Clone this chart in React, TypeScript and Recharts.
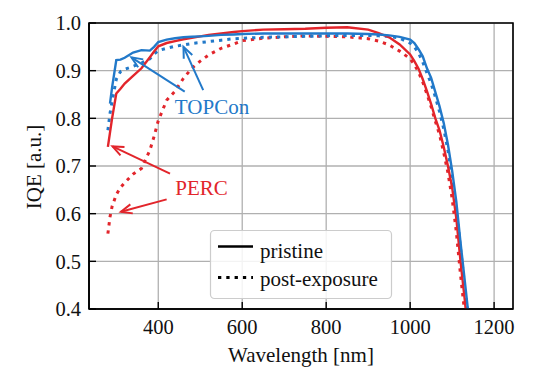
import React from 'react';
import {
  LineChart,
  Line,
  XAxis,
  YAxis,
  CartesianGrid,
  ReferenceLine,
  ReferenceDot,
  ReferenceArea,
} from 'recharts';

const wavelengths = [280, 285, 290, 300, 310, 320, 340, 360, 380, 390, 400, 420, 440, 460, 480, 500, 520, 550, 580, 600, 650, 700, 750, 800, 850, 900, 925, 950, 975, 1000, 1010, 1020, 1030, 1040, 1050, 1060, 1070, 1080, 1090, 1100, 1110, 1120, 1130, 1140, 1150];

const percPristine = [0.74, 0.77, 0.8, 0.852, 0.862, 0.873, 0.889, 0.905, 0.928, 0.94, 0.951, 0.958, 0.962, 0.966, 0.969, 0.972, 0.975, 0.978, 0.981, 0.983, 0.986, 0.987, 0.988, 0.99, 0.991, 0.986, 0.979, 0.97, 0.955, 0.934, 0.92, 0.904, 0.882, 0.857, 0.83, 0.8, 0.775, 0.74, 0.7, 0.655, 0.59, 0.5, 0.42, 0.33, 0.24];

const percPost = [0.558, 0.593, 0.615, 0.64, 0.655, 0.665, 0.683, 0.695, 0.733, 0.762, 0.795, 0.838, 0.857, 0.884, 0.905, 0.92, 0.933, 0.947, 0.956, 0.963, 0.968, 0.971, 0.973, 0.972, 0.971, 0.967, 0.962, 0.954, 0.941, 0.925, 0.913, 0.897, 0.876, 0.851, 0.824, 0.794, 0.766, 0.728, 0.686, 0.632, 0.562, 0.472, 0.392, 0.3, 0.21];

const topconPristine = [null, 0.831, 0.865, 0.922, 0.923, 0.927, 0.938, 0.943, 0.942, 0.95, 0.96, 0.965, 0.968, 0.97, 0.971, 0.972, 0.973, 0.975, 0.976, 0.977, 0.978, 0.978, 0.978, 0.978, 0.978, 0.977, 0.976, 0.974, 0.971, 0.965, 0.958, 0.945, 0.93, 0.905, 0.885, 0.855, 0.825, 0.79, 0.745, 0.69, 0.625, 0.54, 0.46, 0.38, 0.3];

const topconPost = [0.775, 0.81, 0.835, 0.882, 0.898, 0.903, 0.909, 0.916, 0.925, 0.935, 0.942, 0.947, 0.951, 0.954, 0.957, 0.959, 0.961, 0.964, 0.967, 0.968, 0.97, 0.971, 0.972, 0.973, 0.974, 0.974, 0.973, 0.972, 0.968, 0.958, 0.95, 0.937, 0.918, 0.895, 0.873, 0.845, 0.814, 0.778, 0.733, 0.676, 0.612, 0.527, 0.448, 0.368, 0.29];

const xTicks = [400, 600, 800, 1000, 1200];
const yTicks = [0.4, 0.5, 0.6, 0.7, 0.8, 0.9, 1.0];

const BLUE = '#2279c9';
const RED = '#e2252b';
const FONT = '"Liberation Serif", "DejaVu Serif", serif';
const X_TICK_MARGIN = 10;
const Y_TICK_MARGIN = 8;

const data = wavelengths.map((w, i) => ({
  w,
  percPristine: percPristine[i],
  percPost: percPost[i],
  topconPristine: topconPristine[i],
  topconPost: topconPost[i],
}));

const XTick = (props: any) => {
  const { x, y, payload } = props;
  const axisY = y - X_TICK_MARGIN;
  return (
    <g>
      <line x1={x} x2={x} y1={axisY} y2={axisY - 7} stroke="#000" strokeWidth={1.4} />
      <text x={x} y={y} dy="0.71em" textAnchor="middle" fontFamily={FONT} fontSize={20.5} fill="#111">
        {payload.value}
      </text>
    </g>
  );
};

const YTick = (props: any) => {
  const { x, y, payload } = props;
  const axisX = x + Y_TICK_MARGIN;
  return (
    <g>
      <line x1={axisX} x2={axisX + 7} y1={y} y2={y} stroke="#000" strokeWidth={1.4} />
      <text x={x} y={y} dy="0.355em" textAnchor="end" fontFamily={FONT} fontSize={20.5} fill="#111">
        {Number(payload.value).toFixed(1)}
      </text>
    </g>
  );
};

const arrowShape = (color: string) => (props: any) => {
  const { x1, y1, x2, y2 } = props;
  if ([x1, y1, x2, y2].some((v) => typeof v !== 'number' || isNaN(v))) return <g />;
  const ang = Math.atan2(y2 - y1, x2 - x1);
  const L = 12;
  const a = 0.4;
  const p1x = x2 - L * Math.cos(ang - a);
  const p1y = y2 - L * Math.sin(ang - a);
  const p2x = x2 - L * Math.cos(ang + a);
  const p2y = y2 - L * Math.sin(ang + a);
  return (
    <g>
      <line x1={x1} y1={y1} x2={x2} y2={y2} stroke={color} strokeWidth={2} />
      <polyline
        points={`${p1x},${p1y} ${x2},${y2} ${p2x},${p2y}`}
        fill="none"
        stroke={color}
        strokeWidth={2}
      />
    </g>
  );
};

const textShape = (label: string, color: string) => (props: any) => {
  const { cx, cy } = props;
  return (
    <text x={cx} y={cy} dy="0.355em" textAnchor="middle" fontFamily={FONT} fontSize={21} fill={color}>
      {label}
    </text>
  );
};

const yLabel = (props: any) => {
  const vb = props.viewBox || { x: 0, y: 23, width: 89, height: 286 };
  const cx = 34;
  const cy = vb.y + vb.height / 2 + 1;
  return (
    <text
      transform={`translate(${cx},${cy}) rotate(-90)`}
      x={0}
      y={0}
      dy="0.355em"
      textAnchor="middle"
      fontFamily={FONT}
      fontSize={21}
      fill="#111"
    >
      IQE [a.u.]
    </text>
  );
};

const xLabel = (props: any) => {
  const vb = props.viewBox || { x: 89, y: 309, width: 424, height: 67 };
  return (
    <text
      x={vb.x + vb.width / 2}
      y={vb.y + 52.5}
      textAnchor="middle"
      fontFamily={FONT}
      fontSize={21}
      fill="#111"
    >
      Wavelength [nm]
    </text>
  );
};

export default function App() {
  return (
    <div style={{ position: 'absolute', left: 0, top: 0, width: 554, height: 376, background: '#fff' }}>
      <LineChart
        width={554}
        height={376}
        data={data}
        margin={{ top: 23, right: 41, bottom: 0, left: 0 }}
      >
        <CartesianGrid stroke="#b0b0b0" strokeWidth={1.3} />
        <XAxis
          dataKey="w"
          type="number"
          domain={[235, 1245]}
          ticks={xTicks}
          allowDataOverflow
          height={67}
          tickSize={0}
          tickLine={false}
          tickMargin={X_TICK_MARGIN}
          tick={XTick}
          axisLine={{ stroke: '#000', strokeWidth: 1.6 }}
          label={xLabel}
        />
        <YAxis
          type="number"
          domain={[0.4, 1.0]}
          ticks={yTicks}
          allowDataOverflow
          width={89}
          tickSize={0}
          tickLine={false}
          tickMargin={Y_TICK_MARGIN}
          tick={YTick}
          axisLine={{ stroke: '#000', strokeWidth: 1.6 }}
          label={yLabel}
        />
        <ReferenceArea x1={235} x2={1245} y1={0.4} y2={1.0} fill="none" fillOpacity={0} stroke="#000" strokeWidth={1.6} />
        <Line dataKey="percPost" stroke={RED} strokeWidth={3} strokeDasharray="3.3 5" dot={false} isAnimationActive={false} />
        <Line dataKey="topconPost" stroke={BLUE} strokeWidth={3} strokeDasharray="3.3 5" dot={false} isAnimationActive={false} />
        <Line dataKey="percPristine" stroke={RED} strokeWidth={2.4} dot={false} isAnimationActive={false} />
        <Line dataKey="topconPristine" stroke={BLUE} strokeWidth={2.4} dot={false} isAnimationActive={false} />
        <ReferenceLine segment={[{ x: 463, y: 0.856 }, { x: 336, y: 0.928 }]} shape={arrowShape(BLUE)} />
        <ReferenceLine segment={[{ x: 507, y: 0.859 }, { x: 460, y: 0.95 }]} shape={arrowShape(BLUE)} />
        <ReferenceLine segment={[{ x: 428, y: 0.684 }, { x: 291, y: 0.741 }]} shape={arrowShape(RED)} />
        <ReferenceLine segment={[{ x: 420, y: 0.63 }, { x: 311, y: 0.604 }]} shape={arrowShape(RED)} />
        <ReferenceDot x={528} y={0.8246} r={0} ifOverflow="visible" shape={textShape('TOPCon', BLUE)} />
        <ReferenceDot x={503} y={0.6556} r={0} ifOverflow="visible" shape={textShape('PERC', RED)} />
      </LineChart>
      <svg
        width={554}
        height={376}
        style={{ position: 'absolute', left: 0, top: 0, pointerEvents: 'none' }}
      >
        <rect x={210.5} y={230.5} width={181} height={68} rx={4} fill="#fff" fillOpacity={0.85} stroke="#cccccc" strokeWidth={1.2} />
        <line x1={218} x2={253} y1={246.5} y2={246.5} stroke="#000" strokeWidth={2.4} />
        <line x1={218} x2={253} y1={277.5} y2={277.5} stroke="#000" strokeWidth={3} strokeDasharray="3.3 5" />
        <text x={260} y={258} fontFamily={FONT} fontSize={21} fill="#111">pristine</text>
        <text x={260} y={286} fontFamily={FONT} fontSize={21} fill="#111">post-exposure</text>
      </svg>
    </div>
  );
}
